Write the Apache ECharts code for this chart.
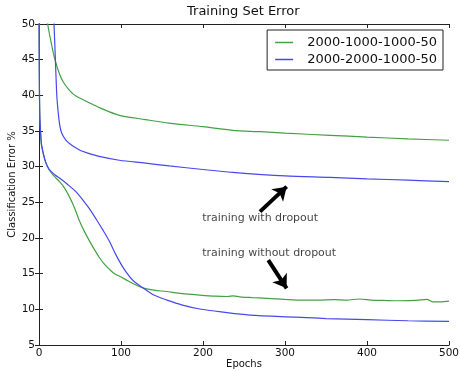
<!DOCTYPE html>
<html>
<head>
<meta charset="utf-8">
<script src="https://cdn.jsdelivr.net/npm/echarts@6/dist/echarts.min.js"></script>
<style>
  html, body { margin: 0; padding: 0; background: #fff; }
  #chart { width: 460px; height: 371px; }
</style>
</head>
<body>
<div id="chart"></div>
<script>
// values
const seriesNames = ['2000-1000-1000-50', '2000-2000-1000-50'];

// 2000-1000-1000-50, upper curve
const greenTopEpochs = [9, 10.6, 15, 19.5, 25, 30, 38, 45, 57, 75, 98, 130, 159, 200, 236, 270, 300, 355, 400, 450, 500];
const greenTopErr = [52, 50, 47.3, 45, 43, 41.8, 40.6, 39.9, 39.2, 38.2, 37.2, 36.6, 36.1, 35.6, 35.1, 34.9, 34.7, 34.4, 34.15, 33.9, 33.7];

// 2000-2000-1000-50, upper curve
const blueTopEpochs = [17, 18.3, 20, 21.7, 23.5, 25.6, 28, 33, 40, 50, 57, 75, 98, 130, 159, 200, 236, 300, 355, 400, 450, 500];
const blueTopErr = [53, 50, 45, 40, 37.5, 35.6, 34.6, 33.7, 33.0, 32.3, 32.0, 31.4, 30.9, 30.5, 30.1, 29.6, 29.2, 28.7, 28.5, 28.3, 28.1, 27.9];

// 2000-1000-1000-50, lower curve
const greenLowEpochs = [0, 0.5, 1, 2, 3, 5, 8, 12, 16, 20, 25, 30, 37, 43, 49, 55, 61, 68, 74, 80, 86, 92, 99, 110, 127, 140, 155, 175, 196, 215, 230, 237, 245, 260, 278, 300, 318, 340, 360, 375, 391, 405, 420, 440, 460, 473, 480, 490, 500];
const greenLowErr = [52, 41, 37, 34.5, 33, 31.9, 30.6, 29.6, 29.0, 28.5, 27.9, 27.2, 25.8, 24.3, 22.5, 21.0, 19.7, 18.3, 17.2, 16.3, 15.6, 15.0, 14.6, 13.9, 13.0, 12.7, 12.5, 12.2, 12.0, 11.85, 11.8, 11.9, 11.75, 11.65, 11.55, 11.4, 11.3, 11.3, 11.35, 11.3, 11.45, 11.3, 11.25, 11.2, 11.25, 11.4, 11.05, 11.05, 11.15];

// 2000-2000-1000-50, lower curve
const blueLowEpochs = [0, 0.5, 1, 2, 3, 5, 8, 12, 16, 20, 25, 35, 45, 55, 61, 70, 78, 86, 94, 104, 115, 127, 140, 156, 175, 196, 225, 257, 314, 350, 400, 450, 500];
const blueLowErr = [52, 41.5, 37.2, 34.7, 33.2, 32.0, 30.7, 29.7, 29.2, 28.8, 28.4, 27.5, 26.5, 25.1, 24.2, 22.6, 21.1, 19.5, 17.6, 15.6, 14.0, 13.0, 12.0, 11.3, 10.6, 10.05, 9.6, 9.2, 8.9, 8.7, 8.55, 8.4, 8.3];

// annotations: text anchor [epoch, error] and arrows [from, to]
const noteTexts = ['training with dropout', 'training without dropout'];
const noteAnchors = [[199, 22.8], [199, 17.9]];
const arrowFrom = [[269.5, 23.7], [279.6, 16.9]];
const arrowTo = [[302, 27.2], [302, 12.95]];

const xTicks = { min: 0, max: 500, interval: 100 };
const yTicks = { min: 5, max: 50, interval: 5 };

const FONT = 'DejaVu Sans';
const GREEN = '#44a044';
const BLUE = '#4848ee';

const pairs = (xs, ys) => xs.map((x, i) => [x, ys[i]]);

const lineSeries = (name, color, xs, ys) => ({
  name: name,
  type: 'line',
  data: pairs(xs, ys),
  symbol: 'none',
  smooth: 0.3,
  clip: true,
  lineStyle: { color: color, width: 1.2 },
  itemStyle: { color: color },
  z: 3
});

const axisCommon = {
  type: 'value',
  axisLine: { show: true, lineStyle: { color: '#222', width: 1 } },
  axisTick: { show: true, inside: true, length: 4, lineStyle: { color: '#222' } },
  splitLine: { show: false },
  axisLabel: { color: '#111', fontFamily: FONT, fontSize: 10.5 }
};

const myChart = echarts.init(document.getElementById('chart'), null, { renderer: 'canvas' });

const option = {
  animation: false,
  backgroundColor: '#fff',
  title: {
    text: 'Training Set Error',
    left: 187,
    top: 5,
    padding: 0,
    textStyle: { fontFamily: FONT, fontSize: 13, fontWeight: 'normal', color: '#111' }
  },
  legend: {
    data: seriesNames,
    orient: 'vertical',
    right: 17,
    top: 30,
    backgroundColor: '#fff',
    borderColor: '#222',
    borderWidth: 1,
    padding: [6, 6, 4, 8],
    icon: 'rect',
    itemWidth: 18,
    itemHeight: 1.5,
    itemGap: 4,
    textStyle: { fontFamily: FONT, fontSize: 13, color: '#111', padding: [0, 0, 0, 9], lineHeight: 13 }
  },
  grid: { left: 39, right: 11, top: 24, bottom: 26, containLabel: false, outerBoundsMode: 'none' },
  xAxis: [
    Object.assign({}, axisCommon, xTicks, {
      position: 'bottom',
      name: 'Epochs',
      nameLocation: 'middle',
      nameGap: 14,
      nameMoveOverlap: false,
      nameTextStyle: { fontFamily: FONT, fontSize: 10, color: '#111' },
      axisLabel: Object.assign({}, axisCommon.axisLabel, { margin: 3 })
    }),
    Object.assign({}, axisCommon, xTicks, {
      position: 'top',
      axisLabel: { show: false }
    })
  ],
  yAxis: [
    Object.assign({}, axisCommon, yTicks, {
      position: 'left',
      name: 'Classification Error %',
      nameLocation: 'middle',
      nameGap: 22,
      nameMoveOverlap: false,
      nameTextStyle: { fontFamily: FONT, fontSize: 10, color: '#111' },
      axisLabel: Object.assign({}, axisCommon.axisLabel, { margin: 4 })
    }),
    Object.assign({}, axisCommon, yTicks, {
      position: 'right',
      axisLabel: { show: false }
    })
  ],
  series: [
    lineSeries(seriesNames[0], GREEN, greenTopEpochs, greenTopErr),
    lineSeries(seriesNames[1], BLUE, blueTopEpochs, blueTopErr),
    lineSeries(seriesNames[0], GREEN, greenLowEpochs, greenLowErr),
    lineSeries(seriesNames[1], BLUE, blueLowEpochs, blueLowErr),
    {
      name: 'notes',
      type: 'scatter',
      symbolSize: 0,
      silent: true,
      data: noteTexts.map((t, i) => ({ name: t, value: noteAnchors[i] })),
      label: {
        show: true,
        position: 'right',
        distance: 0,
        formatter: '{b}',
        fontFamily: FONT,
        fontSize: 11,
        color: '#111'
      },
      markLine: {
        silent: true,
        symbol: ['none', 'arrow'],
        symbolSize: 13,
        label: { show: false },
        lineStyle: { color: '#000', width: 4, type: 'solid' },
        data: arrowFrom.map((p, i) => [{ coord: p }, { coord: arrowTo[i] }])
      },
      z: 4
    }
  ]
};

myChart.setOption(option);
</script>
</body>
</html>
